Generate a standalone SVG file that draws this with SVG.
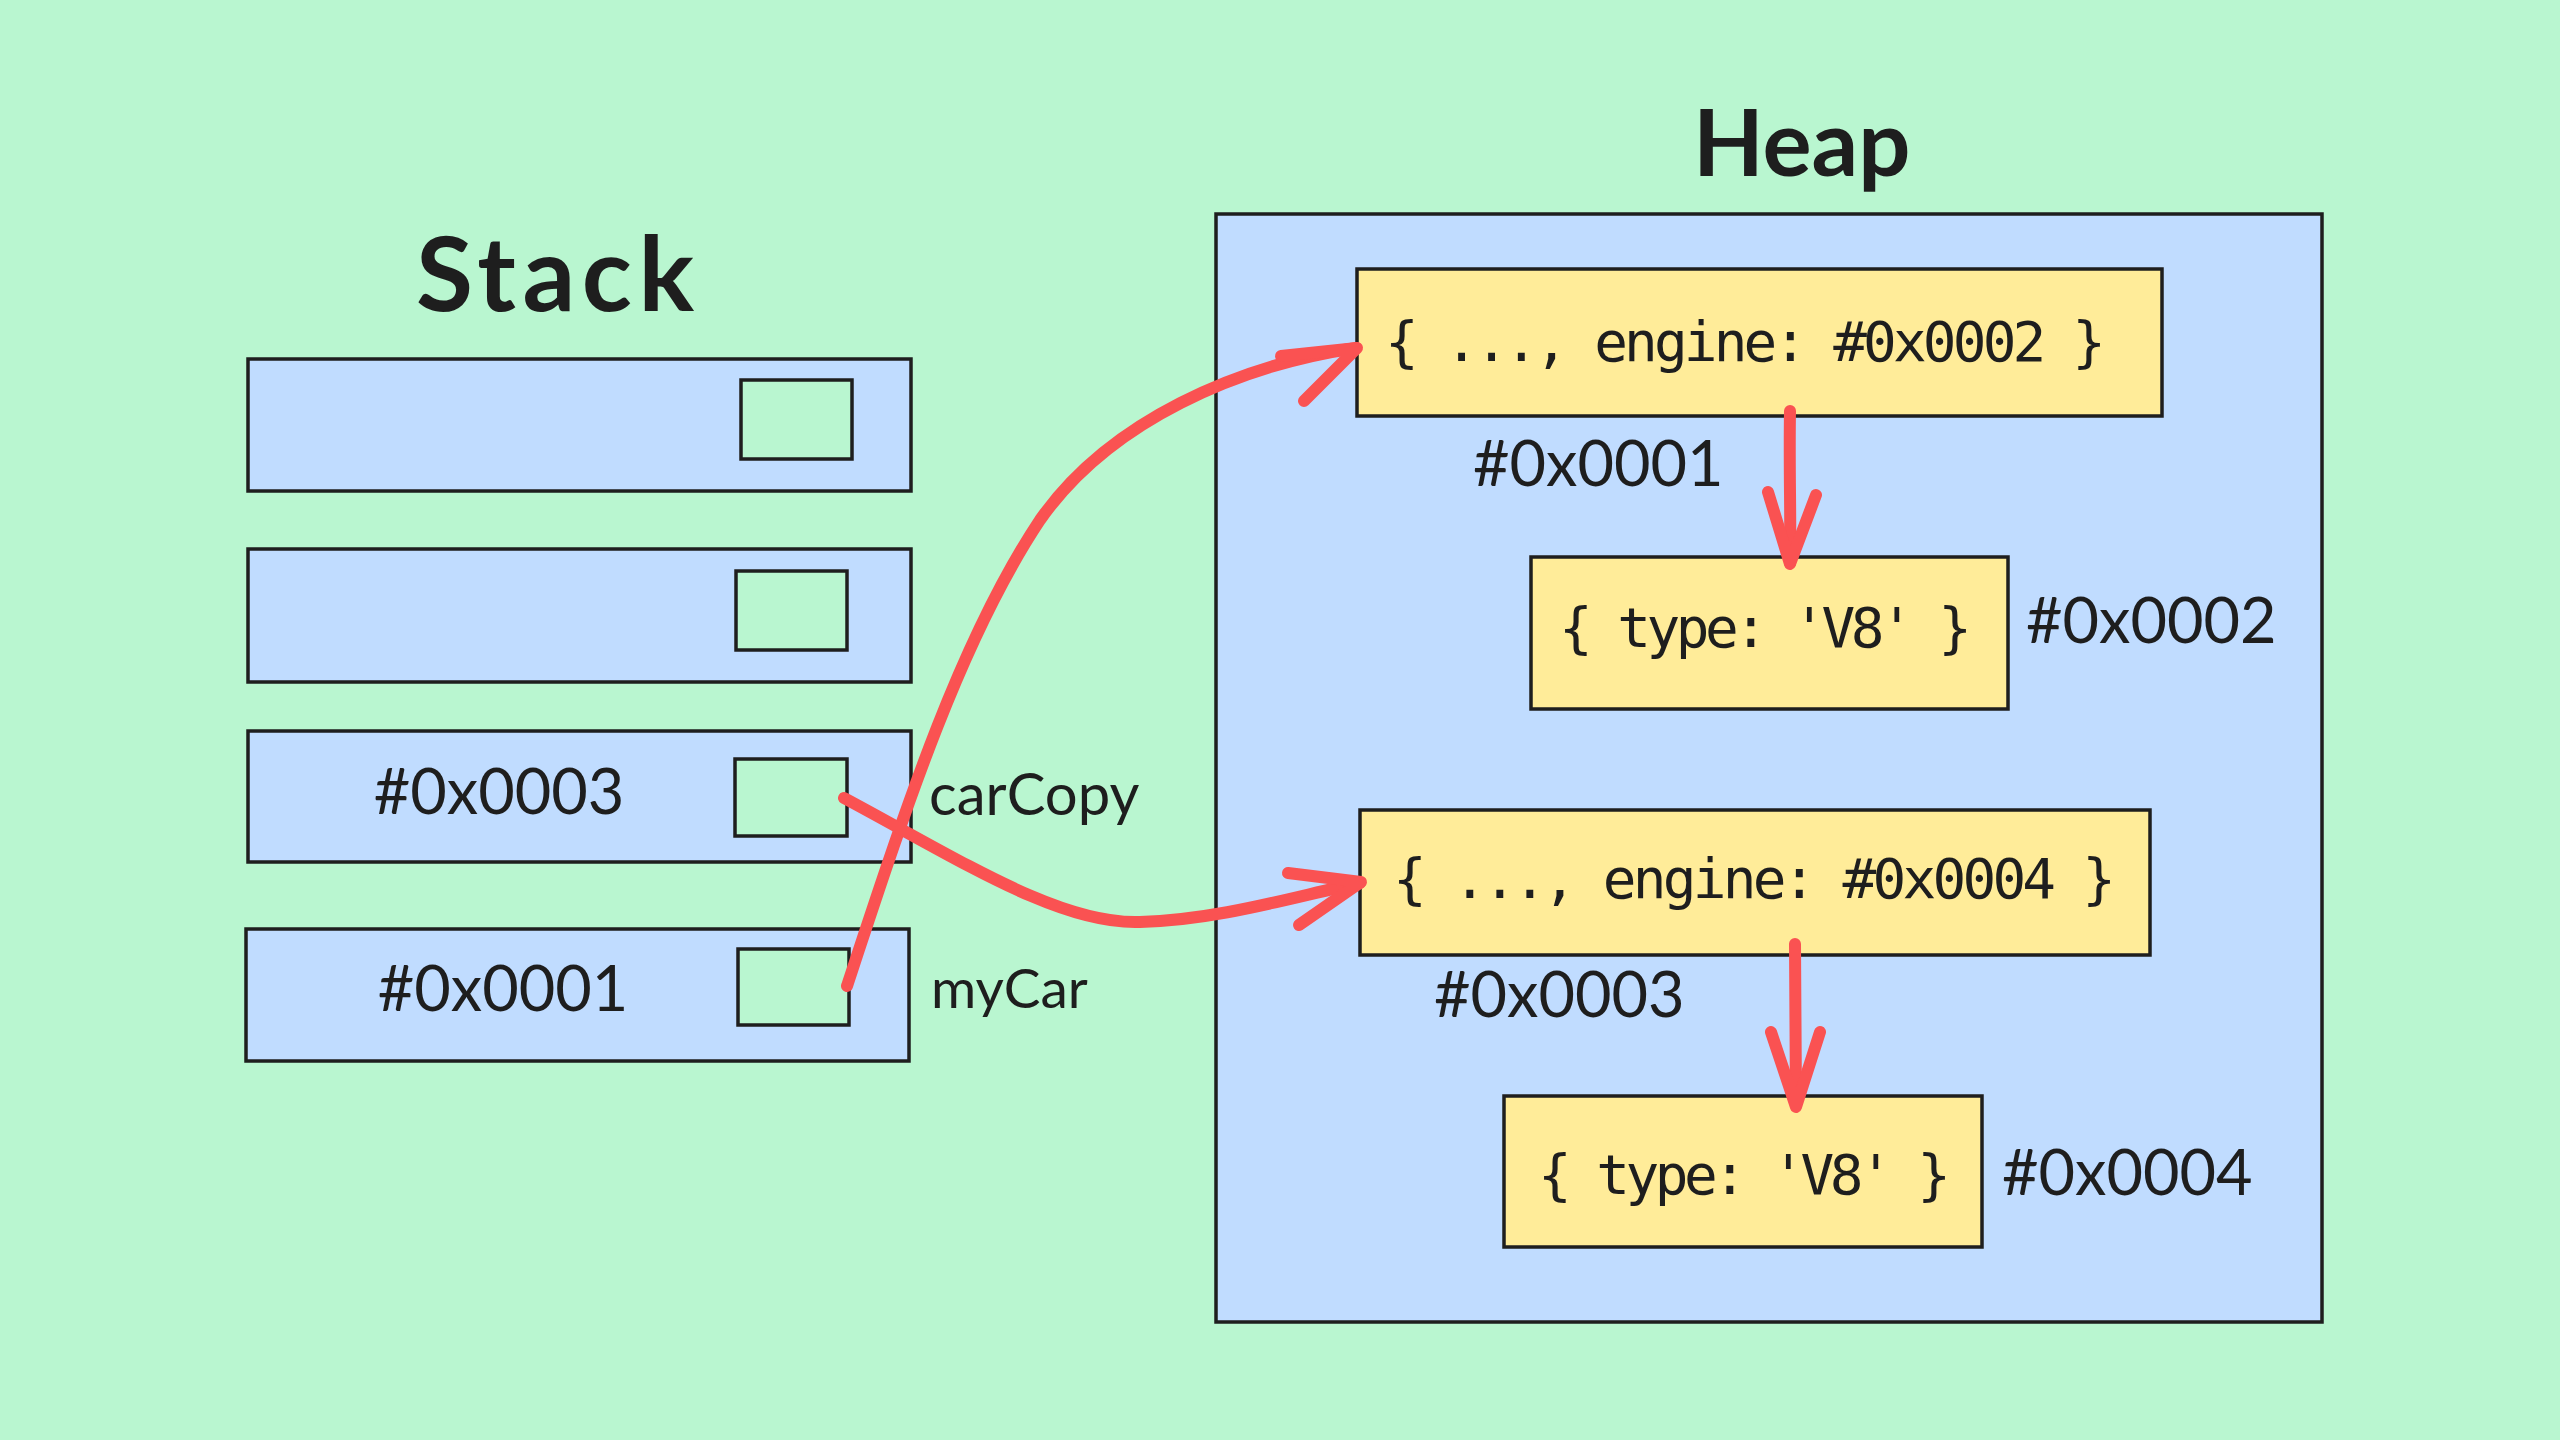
<svg xmlns="http://www.w3.org/2000/svg" width="2560" height="1440" viewBox="0 0 2560 1440">
<defs>
<style>
.bg{fill:#b9f6d0}
.blue{fill:#c0dcff;stroke:#1e1e1e;stroke-width:3.5}
.slot{fill:#b9f6d0;stroke:#1e1e1e;stroke-width:3.5}
.yel{fill:#ffec99;stroke:#1e1e1e;stroke-width:3.5}
.hand{font-family:Lato,"Noto Sans",sans-serif;fill:#1e1e1e}
.addr{font-size:63px}
.mono{font-family:"DejaVu Sans Mono","Liberation Mono",monospace;fill:#1e1e1e;font-size:56px}
.arr{fill:none;stroke:#fa5252;stroke-width:12;stroke-linecap:round;stroke-linejoin:round}
</style>
</defs>
<rect class="bg" x="0" y="0" width="2560" height="1440"/>
<g id="title-stack"><text class="hand" x="416" y="311" font-size="104" font-weight="bold" textLength="278">Stack</text></g>
<g id="title-heap"><text class="hand" x="1693" y="176" font-size="92" font-weight="bold">Heap</text></g>
<g id="stack-1"><rect class="blue" x="248" y="359" width="663" height="132"/><rect class="slot" x="741" y="380" width="111" height="79"/></g>
<g id="stack-2"><rect class="blue" x="248" y="549" width="663" height="133"/><rect class="slot" x="736" y="571" width="111" height="79"/></g>
<g id="stack-3"><rect class="blue" x="248" y="731" width="663" height="131"/><rect class="slot" x="735" y="759" width="112" height="77"/><text class="hand addr" x="499" y="814" text-anchor="middle">#0x0003</text></g>
<g id="stack-4"><rect class="blue" x="246" y="929" width="663" height="132"/><rect class="slot" x="738" y="949" width="111" height="76"/><text class="hand addr" x="503" y="1011" text-anchor="middle">#0x0001</text></g>
<g id="label-carCopy"><text class="hand" x="929" y="815" font-size="58">carCopy</text></g>
<g id="label-myCar"><text class="hand" x="931" y="1008" font-size="55">myCar</text></g>
<g id="heap"><rect class="blue" x="1216" y="214" width="1106" height="1108"/></g>
<g id="heap-obj-1"><rect class="yel" x="1357" y="269" width="805" height="147"/><text class="mono" x="1385" y="361" textLength="721">{ ..., engine: #0x0002 }</text><text class="hand addr" x="1473" y="486">#0x0001</text></g>
<g id="heap-obj-2"><rect class="yel" x="1531" y="557" width="477" height="152"/><text class="mono" x="1559" y="647" textLength="413">{ type: 'V8' }</text><text class="hand addr" x="2026" y="643">#0x0002</text></g>
<g id="heap-obj-3"><rect class="yel" x="1360" y="810" width="790" height="145"/><text class="mono" x="1393" y="898" textLength="723">{ ..., engine: #0x0004 }</text><text class="hand addr" x="1434" y="1017">#0x0003</text></g>
<g id="heap-obj-4"><rect class="yel" x="1504" y="1096" width="478" height="151"/><text class="mono" x="1538" y="1194" textLength="413">{ type: 'V8' }</text><text class="hand addr" x="2002" y="1195">#0x0004</text></g>
<g id="connectors">
<path class="arr" d="M847,986 C905,810 960,640 1040,520 C1110,420 1240,365 1356,348"/>
<path class="arr" d="M1281,356 L1357,348 L1304,401"/>
<path class="arr" d="M844,798 C960,860 1060,925 1140,922 C1220,920 1300,895 1360,883"/>
<path class="arr" d="M1288,873 L1361,882 L1299,925"/>
<path class="arr" d="M1790,411 C1789,470 1791,520 1790,563"/>
<path class="arr" d="M1768,492 L1790,564 L1816,495"/>
<path class="arr" d="M1795,944 L1796,1105"/>
<path class="arr" d="M1771,1032 L1796,1107 L1820,1032"/>
</g>
</svg>
